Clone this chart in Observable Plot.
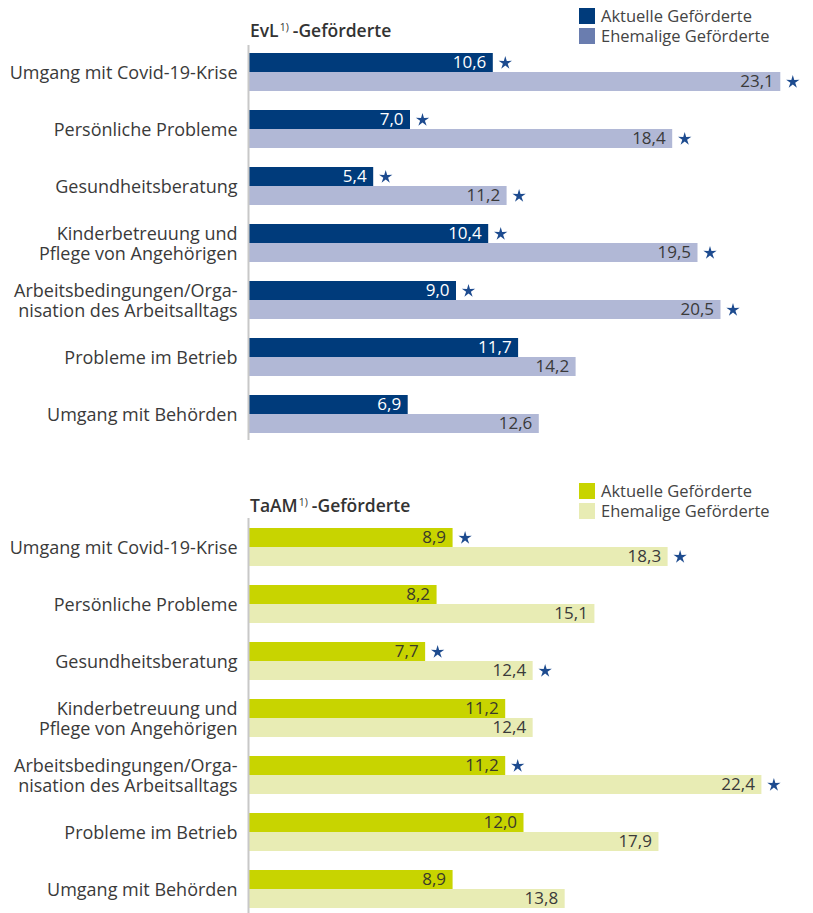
<!DOCTYPE html>
<html>
<head>
<meta charset="utf-8">
<script src="https://cdn.jsdelivr.net/npm/d3@7"></script>
<script src="https://cdn.jsdelivr.net/npm/@observablehq/plot@0.6"></script>
<style>
  html, body { margin: 0; padding: 0; background: #fff; }
  #root { position: relative; width: 813px; height: 913px; font-family: "Open Sans", sans-serif; color: #333; }
  .panel { position: absolute; left: 0; }
  .title { position: absolute; left: 250px; font-weight: 600; font-size: 17.5px; color: #333; white-space: nowrap; }
  .title sup { font-size: 10.5px; font-weight: normal; vertical-align: 0; position: relative; top: -6px; margin: 0 4px 0 1px; }
  .legend { position: absolute; left: 579px; font-size: 16.5px; color: #444; }
  .legend .item { position: relative; height: 20px; line-height: 20px; white-space: nowrap; }
  .legend .sw { position: absolute; left: 0; top: 2px; width: 16px; height: 16px; }
  .legend .lab { position: absolute; left: 22px; top: 0; }
  .plotwrap { position: absolute; left: 0; }
</style>
</head>
<body>
<div id="root"></div>
<script>
// ---------- data ----------
const categories = [
  "Umgang mit Covid-19-Krise",
  "Persönliche Probleme",
  "Gesundheitsberatung",
  "Kinderbetreuung und\nPflege von Angehörigen",
  "Arbeitsbedingungen/Orga-\nnisation des Arbeitsalltags",
  "Probleme im Betrieb",
  "Umgang mit Behörden"
];
const seriesNames = ["Aktuelle Geförderte", "Ehemalige Geförderte"];

const evlAktuell   = [10.6, 7.0, 5.4, 10.4, 9.0, 11.7, 6.9];
const evlEhemalig  = [23.1, 18.4, 11.2, 19.5, 20.5, 14.2, 12.6];
const evlAktuellSig  = [true, true, true, true, true, false, false];
const evlEhemaligSig = [true, true, true, true, true, false, false];

const taamAktuell  = [8.9, 8.2, 7.7, 11.2, 11.2, 12.0, 8.9];
const taamEhemalig = [18.3, 15.1, 12.4, 12.4, 22.4, 17.9, 13.8];
const taamAktuellSig  = [true, false, true, false, true, false, false];
const taamEhemaligSig = [true, false, true, false, true, false, false];

// ---------- helpers ----------
const fmt = v => v.toFixed(1).replace(".", ",");
const starSymbol = {
  draw(ctx, size) {
    const R = Math.sqrt(size / Math.PI), r = R * 0.36;
    for (let i = 0; i < 10; i++) {
      const a = -Math.PI / 2 + i * Math.PI / 5, rr = i % 2 ? r : R;
      const x = rr * Math.cos(a), y = rr * Math.sin(a);
      i ? ctx.lineTo(x, y) : ctx.moveTo(x, y);
    }
    ctx.closePath();
  }
};
const starColor = "#1d4b8f";

function panel(cfg) {
  const rows = categories.map((c, i) => ({
    cat: c, a: cfg.aktuell[i], e: cfg.ehemalig[i], sa: cfg.sigA[i], se: cfg.sigE[i]
  }));
  const half = 19;
  return Plot.plot({
    width: 813,
    height: cfg.height,
    marginLeft: 249,
    marginRight: cfg.marginRight,
    marginTop: cfg.marginTop,
    marginBottom: cfg.marginBottom,
    style: { fontFamily: "'Open Sans', sans-serif", color: "#333", background: "transparent", overflow: "visible" },
    x: { domain: [0, 24], axis: null },
    y: { domain: categories, paddingInner: 1 / 3, paddingOuter: 0, label: null },
    marks: [
      Plot.barX(rows, { y: "cat", x: "a", fill: cfg.colA, insetBottom: half }),
      Plot.barX(rows, { y: "cat", x: "e", fill: cfg.colE, insetTop: half }),
      Plot.text(rows, { y: "cat", x: "a", text: d => fmt(d.a), textAnchor: "end", dx: -7, dy: -half / 2, fill: cfg.txtA, fontSize: 17 }),
      Plot.text(rows, { y: "cat", x: "e", text: d => fmt(d.e), textAnchor: "end", dx: -7, dy: half / 2, fill: "#3a3a3a", fontSize: 17 }),
      Plot.dot(rows.filter(d => d.sa), { y: "cat", x: "a", dx: 12, dy: -half / 2, symbol: starSymbol, r: 7, fill: starColor, stroke: "none" }),
      Plot.dot(rows.filter(d => d.se), { y: "cat", x: "e", dx: 12, dy: half / 2, symbol: starSymbol, r: 7, fill: starColor, stroke: "none" }),
      Plot.ruleX([0], { dx: -1, stroke: "#c8c8c8", strokeWidth: 2, insetTop: -cfg.marginTop, insetBottom: -cfg.marginBottom }),
      Plot.axisY({ tickSize: 0, tickPadding: 12, fontSize: 18, lineHeight: 1.11, fill: "#3a3a3a", label: null })
    ]
  });
}

function header(cfg) {
  const wrap = document.createElement("div");
  wrap.className = "panel";
  wrap.style.top = cfg.headTop + "px";
  wrap.innerHTML = `
    <div class="title" style="top:${cfg.titleTop}px">${cfg.titleMain}<sup>1)</sup>-Geförderte</div>
    <div class="legend" style="top:${cfg.legendTop}px">
      <div class="item"><span class="sw" style="background:${cfg.swA}"></span><span class="lab">${seriesNames[0]}</span></div>
      <div class="item"><span class="sw" style="background:${cfg.swE}"></span><span class="lab">${seriesNames[1]}</span></div>
    </div>`;
  return wrap;
}

const root = document.getElementById("root");
const panels = [
  { titleMain: "EvL", aktuell: evlAktuell, ehemalig: evlEhemalig, sigA: evlAktuellSig, sigE: evlEhemaligSig,
    colA: "#003b7b", colE: "#b1b8d6", swA: "#003b7b", swE: "#6a7daf", txtA: "#ffffff",
    top: 45, height: 395, marginTop: 8, marginBottom: 7, marginRight: 12,
    headTop: 0, titleTop: 18, legendTop: 6 },
  { titleMain: "TaAM", aktuell: taamAktuell, ehemalig: taamEhemalig, sigA: taamAktuellSig, sigE: taamEhemaligSig,
    colA: "#c8d400", colE: "#e8ecb4", swA: "#c8d400", swE: "#e8ecb4", txtA: "#3a3a2a",
    top: 518, height: 395, marginTop: 10, marginBottom: 5, marginRight: 15,
    headTop: 475, titleTop: 18, legendTop: 6 }
];
for (const cfg of panels) {
  root.appendChild(header(cfg));
  const w = document.createElement("div");
  w.className = "plotwrap";
  w.style.top = cfg.top + "px";
  w.appendChild(panel(cfg));
  root.appendChild(w);
}
</script>
</body>
</html>
